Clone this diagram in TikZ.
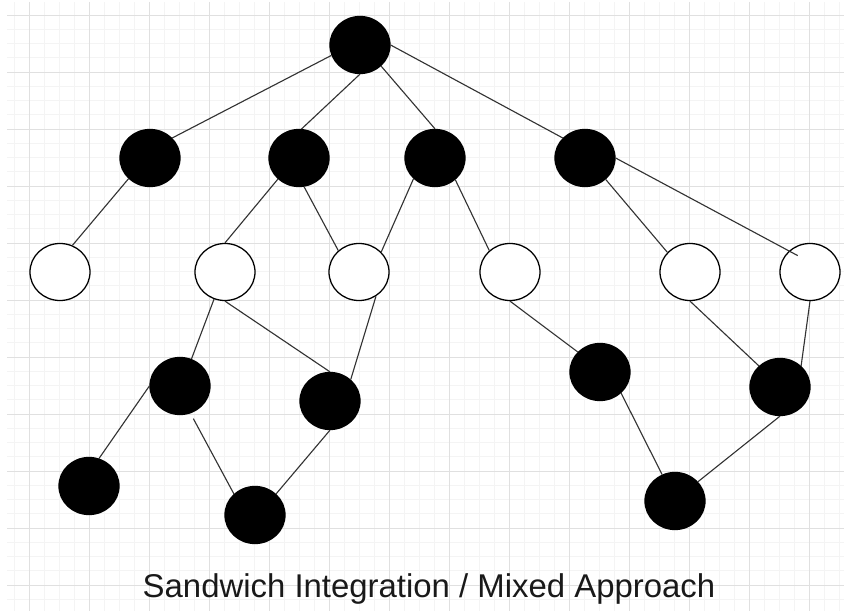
\documentclass[tikz,border=0pt]{standalone}
\usepackage{fontspec}
\setmainfont{Liberation Sans}
\usetikzlibrary{shapes.geometric}

\definecolor{gridmajor}{RGB}{224,224,224}
\definecolor{gridminor}{RGB}{244,244,244}

\tikzset{
  dot/.style={ellipse, draw=black, line width=0.9pt, minimum width=1.5cm, minimum height=1.425cm, inner sep=0pt},
  blacknode/.style={dot, fill=black},
  whitenode/.style={dot, fill=white},
  link/.style={draw=black!80, line width=0.8pt}
}

\begin{document}
\begin{tikzpicture}[x=0.025cm, y=-0.025cm]
\useasboundingbox (0,0) rectangle (844,611);

% background grid
\foreach \x in {14,29,...,844} \draw[gridminor, line width=0.7pt] (\x,2) -- (\x,611);
\foreach \k in {0,...,41} \draw[gridminor, line width=0.7pt] (7,15+14.25*\k) -- (844,15+14.25*\k);
\foreach \x in {29,89,...,809} \draw[gridmajor, line width=0.7pt] (\x,2) -- (\x,611);
\foreach \k in {0,...,10} \draw[gridmajor, line width=0.7pt] (7,15+57*\k) -- (844,15+57*\k);

% top
\node[blacknode] (root) at (360,45) {};

% upper layer
\node[blacknode] (p1) at (150,158) {};
\node[blacknode] (p2) at (299,158) {};
\node[blacknode] (p3) at (435,158) {};
\node[blacknode] (p4) at (585,158) {};

% middle (target) layer
\node[whitenode] (m1) at (60,272) {};
\node[whitenode] (m2) at (225,272) {};
\node[whitenode] (m3) at (359,272) {};
\node[whitenode] (m4) at (510,272) {};
\node[whitenode] (m5) at (690,272) {};
\node[whitenode] (m6) at (810,272) {};

% lower layers
\node[blacknode] (q1) at (180,386) {};
\node[blacknode] (q2) at (330,401) {};
\node[blacknode] (q3) at (600,372) {};
\node[blacknode] (q4) at (780,387) {};
\node[blacknode] (r1) at (89,486) {};
\node[blacknode] (r2) at (255,515) {};
\node[blacknode] (r3) at (675,501) {};

% connections
\draw[link] (root.200) -- (p1.42);
\draw[link] (root.south) -- (p2.85);
\draw[link] (root.-45) -- (p3.north);
\draw[link] (root.east) -- (p4.138);

\draw[link] (p1.-136) -- (m1.65);
\draw[link] (p2.-135) -- (m2.north);
\draw[link] (p2.-80) -- (m3.134);
\draw[link] (p3.-136) -- (m3.42);
\draw[link] (p3.-47) -- (m4.134);
\draw[link] (p4.-46) -- (m5.139);
\draw[link, shorten >=-0.25cm] (p4.east) -- (m6.135);

\draw[link] (m2.-112) -- (q1.67);
\draw[link] (m2.south) -- (q2.north);
\draw[link] (m3.-55) -- (q2.46);
\draw[link] (m4.south) -- (q3.138);
\draw[link] (m5.south) -- (q4.135);
\draw[link] (m6.south) -- (q4.45);

\draw[link] (q1.west) -- (r1.70);
\draw[link, shorten <=0.15cm] (q1.-69) -- (r2.135);
\draw[link] (q2.south) -- (r2.45);
\draw[link] (q3.-45) -- (r3.116);
\draw[link] (q4.south) -- (r3.40);

\node[anchor=base, text=black!90, font=\fontsize{23.4}{28}\selectfont] (title) at (429,597) {Sandwich Integration / Mixed Approach};
\end{tikzpicture}
\end{document}
